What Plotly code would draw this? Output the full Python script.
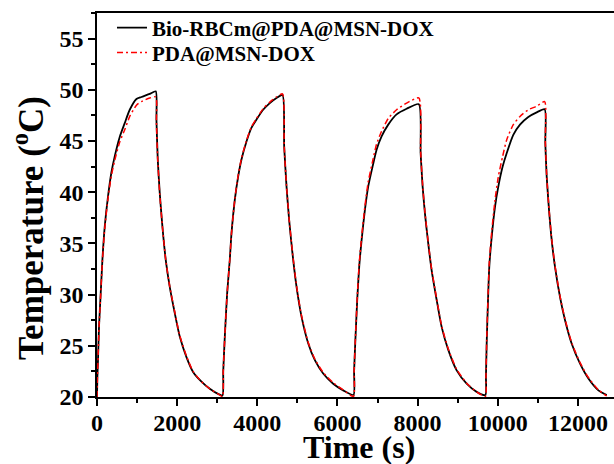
import plotly.graph_objects as go

# Time (s)
time_s = [0, 10, 25, 50, 92, 135, 192, 275, 358, 442, 567, 692, 817, 984, 1108, 1316, 1466,
          1483, 1516, 1566, 1633, 1715, 1815, 1940, 2065, 2232, 2397, 2607, 2814, 3021, 3131,
          3150, 3189, 3247, 3313, 3356, 3438, 3521, 3605, 3730, 3855, 3980, 4145, 4312, 4479, 4629,
          4670, 4729, 4794, 4878, 4979, 5103, 5269, 5436, 5643, 5893, 6142, 6400,
          6415, 6443, 6492, 6542, 6602, 6684, 6767, 6876, 6976, 7101, 7267, 7475, 7725, 8030,
          8075, 8125, 8182, 8265, 8349, 8474, 8599, 8765, 8974, 9224, 9473, 9690,
          9705, 9723, 9756, 9788, 9848, 9930, 10013, 10122, 10222, 10387, 10554, 10762, 10971, 11170,
          11186, 11221, 11279, 11346, 11428, 11553, 11678, 11845, 12053, 12261, 12510, 12719]

# Bio-RBCm@PDA@MSN-DOX temperature (°C)
temp_bio = [20.0, 22.0, 23.6, 26.85, 30.1, 33.4, 36.6, 39.6, 41.9, 43.5, 45.4, 46.75, 48.05, 49.1, 49.3, 49.6, 49.85,
            47.1, 43.2, 39.9, 36.6, 33.4, 30.75, 28.2, 25.9, 23.9, 22.45, 21.5, 20.8, 20.3, 20.15,
            22.5, 25.9, 30.1, 33.4, 36.0, 39.25, 41.5, 43.2, 44.95, 46.3, 47.1, 48.05, 48.7, 49.2, 49.5,
            44.5, 40.55, 37.3, 34.0, 30.75, 27.85, 25.25, 23.6, 22.3, 21.3, 20.65, 20.2,
            22.5, 25.2, 29.4, 32.7, 35.3, 38.25, 40.55, 42.5, 44.15, 45.45, 46.6, 47.6, 48.15, 48.6,
            43.8, 40.55, 37.95, 35.0, 32.4, 29.5, 26.85, 24.6, 22.6, 21.3, 20.5, 20.2,
            22.0, 25.2, 29.4, 32.7, 35.6, 38.55, 40.55, 42.5, 43.8, 45.6, 46.6, 47.35, 47.8, 48.1,
            44.8, 41.5, 38.25, 35.3, 32.7, 29.75, 27.5, 25.2, 23.25, 21.8, 20.65, 20.2]

# PDA@MSN-DOX temperature (°C)
temp_pda = [20.0, 22.0, 23.5, 26.7, 30.0, 33.3, 36.4, 39.4, 41.6, 43.1, 44.9, 46.1, 47.4, 48.5, 48.85, 49.2, 49.3,
            46.8, 43.1, 39.8, 36.6, 33.4, 30.8, 28.3, 26.0, 24.0, 22.5, 21.5, 20.8, 20.3, 20.05,
            22.5, 25.9, 30.1, 33.4, 36.0, 39.3, 41.6, 43.3, 45.05, 46.4, 47.2, 48.15, 48.8, 49.3, 49.6,
            44.6, 40.6, 37.4, 34.1, 30.85, 27.95, 25.35, 23.7, 22.4, 21.4, 20.7, 20.05,
            22.5, 25.3, 29.6, 33.0, 35.6, 38.6, 41.0, 43.0, 44.7, 45.95, 47.2, 48.05, 48.7, 49.2,
            44.0, 40.7, 38.1, 35.1, 32.5, 29.6, 26.95, 24.7, 22.7, 21.35, 20.5, 20.05,
            22.0, 25.4, 29.7, 33.1, 36.1, 39.2, 41.5, 43.5, 45.1, 46.6, 47.4, 48.05, 48.4, 48.85,
            45.0, 41.6, 38.35, 35.4, 32.8, 29.85, 27.6, 25.3, 23.35, 21.9, 20.7, 20.1]

x_ticks = [0, 2000, 4000, 6000, 8000, 10000, 12000]
y_ticks = [20, 25, 30, 35, 40, 45, 50, 55]

FONT = "Times New Roman, Liberation Serif, serif"
LEGEND_FONT = dict(family=FONT, size=21, color="black", weight="bold")

fig = go.Figure()
fig.add_trace(go.Scatter(x=time_s, y=temp_bio, mode="lines", name="Bio-RBCm@PDA@MSN-DOX", legend="legend",
                         line=dict(color="black", width=1.8, shape="spline", smoothing=0.6)))
fig.add_trace(go.Scatter(x=time_s, y=temp_pda, mode="lines", name="PDA@MSN-DOX", legend="legend2",
                         line=dict(color="red", width=1.5, dash="6px,3px,2px,3px", shape="spline", smoothing=0.6)))

axis_common = dict(showgrid=False, zeroline=False, showline=True, linecolor="black", linewidth=1.5,
                   ticks="outside", ticklen=7, tickwidth=1.5, tickcolor="black",
                   tickfont=dict(family=FONT, size=24, color="black", weight="bold"))

fig.update_xaxes(range=[0, 12900], tickvals=x_ticks, ticktext=[str(v) for v in x_ticks], mirror=True,
                 ticklabelstandoff=-4,
                 minor=dict(dtick=1000, ticks="outside", ticklen=4, tickwidth=1.5, tickcolor="black"),
                 **axis_common)
fig.update_yaxes(range=[20, 57.5], tickvals=y_ticks, ticktext=[str(v) for v in y_ticks],
                 minor=dict(dtick=2.5, ticks="outside", ticklen=4, tickwidth=1.5, tickcolor="black"),
                 **axis_common)

fig.update_layout(
    width=614, height=464,
    margin=dict(l=97, r=0, t=13, b=67, autoexpand=False),
    plot_bgcolor="white", paper_bgcolor="white",
    showlegend=True,
    legend=dict(x=0.029, y=0.961, xanchor="left", yanchor="middle", bgcolor="rgba(0,0,0,0)",
                font=LEGEND_FONT),
    legend2=dict(x=0.029, y=0.896, xanchor="left", yanchor="middle", bgcolor="rgba(0,0,0,0)",
                 font=LEGEND_FONT),
    annotations=[
        dict(text="Time (s)", xref="paper", yref="paper", x=0.507, y=-0.13, xanchor="center", yanchor="middle",
             showarrow=False, font=dict(family=FONT, size=32, color="black", weight="bold")),
        dict(text="Temperature (<sup>o</sup>C)", xref="paper", yref="paper", x=-0.1335, y=0.44, xanchor="center",
             yanchor="middle", textangle=-90, showarrow=False,
             font=dict(family=FONT, size=35, color="black", weight="bold")),
    ],
)

fig.write_html("out.html", config={"displayModeBar": False},
               post_script="document.body.style.margin='0px';document.body.style.overflow='hidden';")
